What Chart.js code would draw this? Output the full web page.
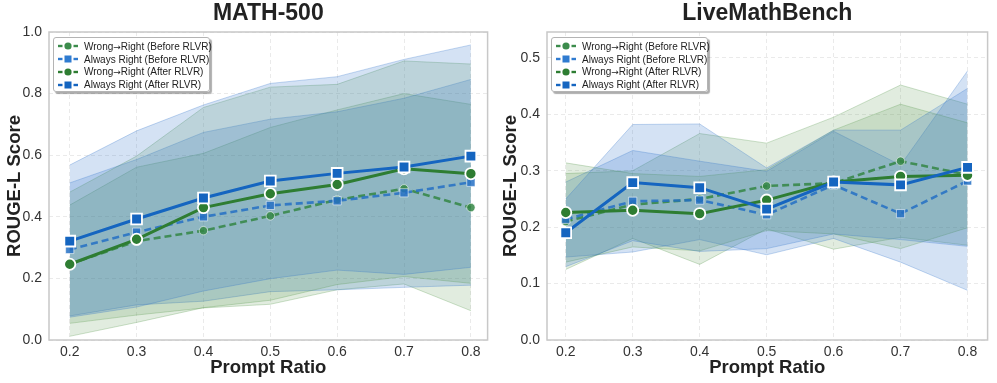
<!DOCTYPE html>
<html>
<head>
<meta charset="utf-8">
<script src="https://cdn.jsdelivr.net/npm/chart.js@4.4.1/dist/chart.umd.min.js"></script>
<style>
  body { margin: 0; background: #fff; font-family: "Liberation Sans", Arial, sans-serif; }
  #wrap { position: relative; width: 997px; height: 383px; overflow: hidden; }
  #wrap canvas { position: absolute; top: 0; }
  .legend {
    position: absolute; top: 37px; width: 157px; height: 55px; box-sizing: border-box;
    background: rgba(255,255,255,0.93); border: 1px solid #b4b4b4; border-radius: 3px;
    box-shadow: 2px 2px 1px rgba(0,0,0,0.32); padding: 2px 0 0 3px;
  }
  .legend .row { display: flex; align-items: center; height: 12.8px; font-size: 10px; color: #222; white-space: nowrap; }
  .legend svg { margin-right: 5px; flex: none; }
  .legend .arrow { font-family: "DejaVu Sans", sans-serif; font-size: 9px; }
</style>
</head>
<body>
<div id="wrap">
  <canvas id="chart-math" width="497" height="383" style="left:0"></canvas>
  <canvas id="chart-live" width="500" height="383" style="left:497px"></canvas>
  <div class="legend" id="legend-math" style="left:53px"></div>
  <div class="legend" id="legend-live" style="left:551px"></div>
</div>
<script>
// ===== Data =====
const ratios = [0.2, 0.3, 0.4, 0.5, 0.6, 0.7, 0.8];
const seriesLabels = [
  'Wrong\u2192Right (Before RLVR)',
  'Always Right (Before RLVR)',
  'Wrong\u2192Right (After RLVR)',
  'Always Right (After RLVR)'
];
const mathTicks = [0.0, 0.2, 0.4, 0.6, 0.8, 1.0];
const liveTicks = [0.0, 0.1, 0.2, 0.3, 0.4, 0.5];

// MATH-500 means and band edges
const mathWrBefore   = [0.246, 0.321, 0.355, 0.403, 0.455, 0.491, 0.430];
const mathWrBeforeHi = [0.438, 0.561, 0.606, 0.690, 0.747, 0.800, 0.765];
const mathWrBeforeLo = [0.054, 0.081, 0.104, 0.116, 0.163, 0.182, 0.095];
const mathArBefore   = [0.294, 0.350, 0.400, 0.437, 0.452, 0.478, 0.512];
const mathArBeforeHi = [0.510, 0.586, 0.674, 0.717, 0.741, 0.785, 0.846];
const mathArBeforeLo = [0.078, 0.114, 0.126, 0.157, 0.163, 0.171, 0.178];
const mathWrAfter    = [0.246, 0.327, 0.430, 0.475, 0.505, 0.556, 0.540];
const mathWrAfterHi  = [0.480, 0.597, 0.755, 0.821, 0.830, 0.906, 0.896];
const mathWrAfterLo  = [0.012, 0.057, 0.105, 0.129, 0.180, 0.206, 0.184];
const mathArAfter    = [0.321, 0.393, 0.461, 0.516, 0.541, 0.562, 0.597];
const mathArAfterHi  = [0.568, 0.679, 0.763, 0.833, 0.855, 0.911, 0.958];
const mathArAfterLo  = [0.074, 0.107, 0.159, 0.199, 0.227, 0.213, 0.236];

// LiveMathBench means and band edges
const liveWrBefore   = [0.210, 0.240, 0.250, 0.273, 0.278, 0.317, 0.293];
const liveWrBeforeHi = [0.295, 0.300, 0.366, 0.349, 0.395, 0.452, 0.418];
const liveWrBeforeLo = [0.125, 0.180, 0.134, 0.197, 0.161, 0.182, 0.168];
const liveArBefore   = [0.214, 0.246, 0.248, 0.222, 0.275, 0.224, 0.282];
const liveArBeforeHi = [0.280, 0.336, 0.317, 0.299, 0.370, 0.310, 0.477];
const liveArBeforeLo = [0.147, 0.156, 0.178, 0.151, 0.180, 0.138, 0.088];
const liveWrAfter    = [0.226, 0.230, 0.224, 0.248, 0.280, 0.290, 0.292];
const liveWrAfterHi  = [0.314, 0.295, 0.290, 0.302, 0.372, 0.418, 0.385];
const liveWrAfterLo  = [0.138, 0.165, 0.158, 0.194, 0.188, 0.162, 0.199];
const liveArAfter    = [0.190, 0.279, 0.270, 0.232, 0.280, 0.275, 0.306];
const liveArAfterHi  = [0.250, 0.382, 0.383, 0.305, 0.372, 0.372, 0.446];
const liveArAfterLo  = [0.130, 0.176, 0.157, 0.162, 0.188, 0.178, 0.166];

// ===== Styles =====
const styles = [
  { color: 'rgba(52,134,68,0.85)', band: 'rgba(76,145,65,0.17)', edge: 'rgba(76,145,65,0.35)',
    dash: [7, 4], width: 2.6, shape: 'circle', radius: 4.2, ptBorder: 'rgba(255,255,255,0.55)', ptBorderW: 1, legend: '#3c8c4c' },
  { color: 'rgba(36,112,196,0.85)', band: 'rgba(40,110,200,0.2)', edge: 'rgba(40,110,200,0.35)',
    dash: [7, 4], width: 2.6, shape: 'rect', radius: 5.8, ptBorder: 'rgba(255,255,255,0.55)', ptBorderW: 1, legend: '#2f7bd0' },
  { color: '#2e7d32', band: 'rgba(76,145,65,0.17)', edge: 'rgba(76,145,65,0.35)',
    dash: [], width: 3, shape: 'circle', radius: 5.6, ptBorder: '#ffffff', ptBorderW: 1.8, legend: '#2e7d32' },
  { color: '#1565c0', band: 'rgba(40,110,200,0.2)', edge: 'rgba(40,110,200,0.35)',
    dash: [], width: 3, shape: 'rect', radius: 7.6, ptBorder: '#ffffff', ptBorderW: 1.8, legend: '#1565c0' }
];

Chart.defaults.font.family = "'Liberation Sans', Arial, sans-serif";
Chart.defaults.color = '#333';

// plot frame + title centred over the plot area
const framePlugin = {
  id: 'frame',
  beforeDatasetsDraw(chart) {
    const { ctx, chartArea: a } = chart;
    ctx.save();
    ctx.strokeStyle = '#c8c8c8';
    ctx.lineWidth = 1.5;
    ctx.strokeRect(a.left, a.top, a.right - a.left, a.bottom - a.top);
    ctx.restore();
  },
  afterDraw(chart, args, opts) {
    const { ctx, chartArea: a } = chart;
    ctx.save();
    ctx.fillStyle = '#222';
    ctx.font = "bold 23px 'Liberation Sans', Arial, sans-serif";
    ctx.textAlign = 'center';
    ctx.textBaseline = 'middle';
    ctx.fillText(opts.text, (a.left + a.right) / 2, 14);
    ctx.restore();
  }
};

const toPoints = arr => arr.map((v, i) => ({ x: ratios[i], y: v }));

function buildChart(id, title, means, his, los, opts) {
  const datasets = [];
  // lines: last series on top (index 0 drawn last)
  [3, 2, 1, 0].forEach(k => {
    const s = styles[k];
    datasets.push({
      data: toPoints(means[k]),
      borderColor: s.color,
      borderWidth: s.width,
      borderDash: s.dash,
      backgroundColor: s.color,
      pointStyle: s.shape,
      pointRadius: s.radius,
      pointBackgroundColor: s.color,
      pointBorderColor: s.ptBorder,
      pointBorderWidth: s.ptBorderW,
      tension: 0,
      fill: false
    });
  });
  // bands
  [3, 2, 1, 0].forEach(k => {
    const s = styles[k];
    datasets.push({
      data: toPoints(his[k]),
      borderColor: s.edge, borderWidth: 0.8, pointRadius: 0,
      backgroundColor: s.band, fill: '+1', tension: 0
    });
    datasets.push({
      data: toPoints(los[k]),
      borderColor: s.edge, borderWidth: 0.8, pointRadius: 0,
      backgroundColor: 'rgba(0,0,0,0)', fill: false, tension: 0
    });
  });

  return new Chart(document.getElementById(id), {
    type: 'line',
    data: { datasets },
    plugins: [framePlugin],
    options: {
      responsive: false,
      animation: false,
      layout: { padding: { left: 0, right: 7, top: 32, bottom: 0 } },
      plugins: {
        legend: { display: false },
        tooltip: { enabled: false },
        title: { display: false },
        frame: { text: title }
      },
      scales: {
        x: {
          type: 'linear', min: opts.xMin, max: opts.xMax,
          afterBuildTicks: s => { s.ticks = ratios.map(v => ({ value: v })); },
          afterFit: s => { s.height = 43; },
          ticks: { callback: v => v.toFixed(1), color: '#333', font: { size: 14 }, padding: 4, maxRotation: 0 },
          grid: { color: '#e4e4e4', lineWidth: 0.8, drawTicks: false },
          border: { display: false, dash: [4, 3] },
          title: { display: true, text: 'Prompt Ratio', color: '#222', font: { size: 18.5, weight: 'bold' }, padding: { top: 0, bottom: 4 } }
        },
        y: {
          min: 0, max: opts.yMax,
          afterBuildTicks: s => { s.ticks = opts.yTicks.map(v => ({ value: v })); },
          afterFit: s => { s.width = opts.yWidth; },
          ticks: { callback: v => v.toFixed(1), color: '#333', font: { size: 14 }, padding: 7 },
          grid: { color: '#e4e4e4', lineWidth: 0.8, drawTicks: false },
          border: { display: false, dash: [4, 3] },
          title: { display: true, text: 'ROUGE-L Score', color: '#222', font: { size: 18.5, weight: 'bold' }, padding: { top: opts.yTitlePad, bottom: 0 } }
        }
      }
    }
  });
}

function buildLegend(id) {
  const box = document.getElementById(id);
  seriesLabels.forEach((label, k) => {
    const s = styles[k];
    const c = s.legend;
    const marker = s.shape === 'circle'
      ? `<circle cx="11" cy="5" r="3.6" fill="${c}"/>`
      : `<rect x="7.5" y="1.5" width="7" height="7" fill="${c}"/>`;
    const row = document.createElement('div');
    row.className = 'row';
    row.innerHTML =
      `<svg width="22" height="10"><line x1="1" y1="5" x2="5.5" y2="5" stroke="${c}" stroke-width="2.4"/>` +
      `<line x1="16.5" y1="5" x2="21" y2="5" stroke="${c}" stroke-width="2.4"/>${marker}</svg>` +
      `<span>${label.replace('\u2192', '<span class="arrow">\u2192</span>')}</span>`;
    box.appendChild(row);
  });
}

buildChart('chart-math', 'MATH-500',
  [mathWrBefore, mathArBefore, mathWrAfter, mathArAfter],
  [mathWrBeforeHi, mathArBeforeHi, mathWrAfterHi, mathArAfterHi],
  [mathWrBeforeLo, mathArBeforeLo, mathWrAfterLo, mathArAfterLo],
  { xMin: 0.169, xMax: 0.825, yMax: 1.0, yTicks: mathTicks, yWidth: 49, yTitlePad: 4 });

buildChart('chart-live', 'LiveMathBench',
  [liveWrBefore, liveArBefore, liveWrAfter, liveArAfter],
  [liveWrBeforeHi, liveArBeforeHi, liveWrAfterHi, liveArAfterHi],
  [liveWrBeforeLo, liveArBeforeLo, liveWrAfterLo, liveArAfterLo],
  { xMin: 0.172, xMax: 0.830, yMax: 0.546, yTicks: liveTicks, yWidth: 50, yTitlePad: 2.5 });

buildLegend('legend-math');
buildLegend('legend-live');
</script>
</body>
</html>
